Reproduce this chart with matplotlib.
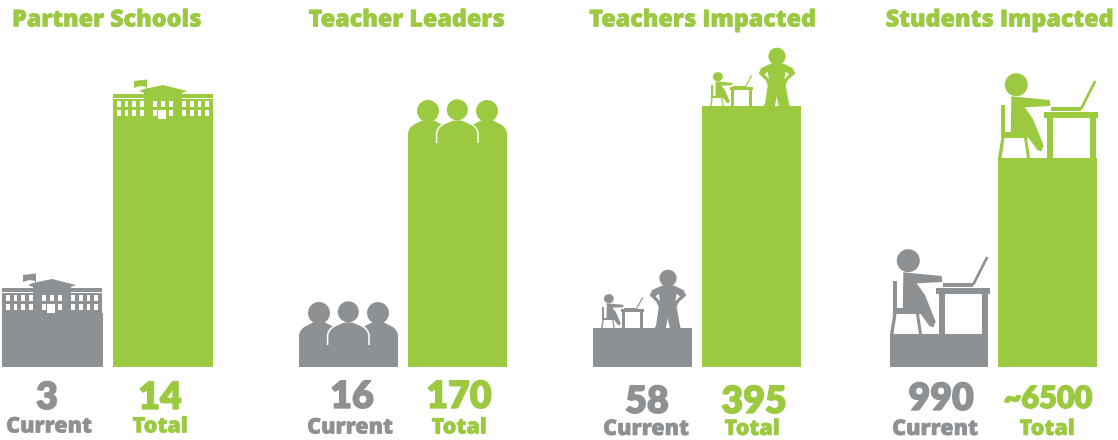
import matplotlib
matplotlib.use("Agg")
import matplotlib.pyplot as plt
import matplotlib.patheffects as pe
from matplotlib.patches import Circle, Ellipse, PathPatch, Polygon, Rectangle
from matplotlib.path import Path

GREEN = "#9BCA41"
GRAY = "#8E9194"

titles = ["Partner Schools", "Teacher Leaders", "Teachers Impacted", "Students Impacted"]
current_labels = ["3", "16", "58", "990"]
total_labels = ["14", "170", "395", "~6500"]
# bar heights (the bars are not to scale with the numbers)
current_heights = [54, 22, 39, 33]
total_heights = [248, 224, 261, 209]

# layout, in image pixels
current_left = [2, 299, 593, 890]
total_left = [113, 408, 702, 998]
current_width = [101, 99, 99, 98]
total_width = [100, 99, 99, 99]
BASE_ROW = 367
title_x = [107, 407, 703, 1000]
current_num_x = [47, 352, 647, 941]
total_num_x = [160, 459, 754, 1048]
current_word_x = [49, 350, 646, 935]
total_word_x = [160, 459, 752, 1047]
num_row = [398, 397, 402, 399]
word_row = [426.5, 427.5, 429, 429]
total_num_size = [27, 27, 27, 22]

plt.rcParams["font.family"] = ["Open Sans", "DejaVu Sans"]

fig = plt.figure(figsize=(11.18, 4.40), dpi=100)
ax = fig.add_axes([0, 0, 1, 1])
ax.set_xlim(0, 1118)
ax.set_ylim(BASE_ROW - 440, BASE_ROW)
ax.axis("off")


def row(r):
    return BASE_ROW - r


def school(x0, y0, color):
    def box(x, y, w, h, c=color):
        ax.add_patch(Rectangle((x0 + x, y0 + y), w, h, fc=c, ec="none"))

    box(0, 0, 100, 20)
    box(0, 21, 100, 4)
    pavilion = [(31, 0), (31, 26), (26, 28), (31, 30), (50, 34), (74, 28), (69, 26), (69, 0)]
    ax.add_patch(Polygon([(x0 + x, y0 + y) for x, y in pavilion], fc=color, ec="none"))
    # flag
    box(32.5, 28, 1.6, 11)
    flag = [(21, 38), (34, 39.5), (34, 32), (27, 33), (21, 31)]
    ax.add_patch(Polygon([(x0 + x, y0 + y) for x, y in flag], fc=color, ec="none"))
    # windows
    for wx in [4, 11.7, 19.3, 27, 40.3, 48, 56, 69.3, 77, 84.7, 92.3]:
        box(wx, 12, 3.6, 5.7, "white")
        if wx != 48:
            box(wx, 2.7, 3.6, 6, "white")
    box(45.3, 0, 7.7, 8.7, "white")


def body_path(cx, hw):
    verts = [(cx - hw, 0), (cx - hw, 10), (cx - hw + 1, 16), (cx - hw + 7, 19),
             (cx - hw + 12, 21.5), (cx - 5, 23), (cx, 23.5),
             (cx + 5, 23), (cx + hw - 12, 21.5), (cx + hw - 7, 19),
             (cx + hw - 1, 16), (cx + hw, 10), (cx + hw, 0)]
    codes = [Path.MOVETO, Path.LINETO, Path.CURVE3, Path.CURVE3,
             Path.CURVE3, Path.CURVE3, Path.LINETO,
             Path.LINETO, Path.CURVE3, Path.CURVE3,
             Path.CURVE3, Path.CURVE3, Path.LINETO]
    return verts, codes


def people(x0, y0, color):
    for cx, hw, hy, r in [(20, 20, 32, 11), (79, 20, 32, 11), (49.3, 20.7, 33.2, 10.5)]:
        verts, codes = body_path(x0 + cx, hw)
        verts = [(x, y0 + y) for x, y in verts]
        ax.add_patch(PathPatch(Path(verts, codes), fc=color, ec="none"))
        if cx == 49.3:
            ax.add_patch(PathPatch(Path(verts, codes), fc="none", ec="white", lw=1.1))
        ax.add_patch(Circle((x0 + cx, y0 + hy), r, fc=color, ec="none"))


def desk(x0, y0, color, sx=1.0, sy=1.0):
    def shape(pts, c=color):
        ax.add_patch(Polygon([(x0 + sx * x, y0 + sy * y) for x, y in pts], fc=c, ec="none"))

    ax.add_patch(Ellipse((x0 + sx * 18.3, y0 + sy * 73.3), 23 * sx, 23 * sy, fc=color, ec="none"))
    # kid and chair
    shape([(13.3, 61.7), (51.7, 58), (52.3, 52), (26.7, 50.7), (35, 39), (45.7, 12.3),
           (43.3, 6.7), (39.3, 8), (30.7, 20), (12.7, 20)])
    shape([(3.3, 20), (31.7, 20), (31.7, 25.7), (3.3, 25.7)])
    shape([(3.3, 25), (7.3, 25), (7.3, 53.3), (3.3, 53.3)])
    shape([(3.3, 20), (6.5, 20), (3.5, 0), (0, 0)])
    shape([(26, 20), (29, 20), (32, 0), (29, 0)])
    # table
    shape([(46, 39.7), (100, 39.7), (100, 46.3), (46, 46.3)])
    shape([(49.3, 0), (55, 0), (55, 40), (49.3, 40)])
    shape([(91.7, 0), (97.7, 0), (97.7, 40), (91.7, 40)])
    # laptop
    shape([(53.3, 47.3), (83.3, 47.3), (83.3, 50.7), (53.3, 50.7)])
    shape([(81.5, 49), (84.5, 49), (98.5, 76.5), (96, 77.5)])


def teacher(x0, y0, color):
    def z(pts):
        return [(x0 + a / 3 - 112, y0 + 66 - b / 3) for a, b in pts]

    ax.add_patch(Circle((x0 + 75, y0 + 49.7), 8.6, fc=color, ec="none"))
    outline = [(523, 198), (527, 190), (535, 135), (527, 118), (508, 100), (515, 85), (545, 72),
               (578, 72), (606, 85), (614, 100), (593, 118), (585, 135), (595, 190), (597, 198),
               (568, 198), (560, 160), (553, 198)]
    ax.add_patch(Polygon(z(outline), fc=color, ec=color, lw=0.8, joinstyle="round"))
    ax.add_patch(Polygon(z([(533, 95), (524, 103), (537, 118)]), fc="white", ec="none"))
    ax.add_patch(Polygon(z([(587, 95), (597, 103), (583, 118)]), fc="white", ec="none"))
    desk(x0 + 8, y0, color, 0.43, 0.4)


ax.bar(current_left, current_heights, width=current_width, align="edge", color=GRAY)
ax.bar(total_left, total_heights, width=total_width, align="edge", color=GREEN)

school(current_left[0], current_heights[0], GRAY)
school(total_left[0], total_heights[0], GREEN)
people(current_left[1], current_heights[1], GRAY)
people(total_left[1], total_heights[1], GREEN)
teacher(current_left[2], current_heights[2], GRAY)
teacher(total_left[2], total_heights[2], GREEN)
desk(current_left[3], current_heights[3], GRAY)
desk(total_left[3], total_heights[3], GREEN)


def label(x, r, s, color, size, family="Open Sans", stroke=0.4):
    ax.text(x, row(r), s, color=color, fontsize=size, fontweight=800, family=family,
            ha="center", va="center",
            path_effects=[pe.withStroke(linewidth=stroke, foreground=color)])


for i in range(4):
    label(title_x[i], 20.5, titles[i], GREEN, 16.8)
    label(current_num_x[i], num_row[i], current_labels[i], GRAY, 27, "Lato", 1.0)
    label(total_num_x[i], num_row[i], total_labels[i], GREEN, total_num_size[i], "Lato", 1.0)
    label(current_word_x[i], word_row[i], "Current", GRAY, 15.5)
    label(total_word_x[i], word_row[i], "Total", GREEN, 15.5)

fig.savefig("out.png", dpi=100)
